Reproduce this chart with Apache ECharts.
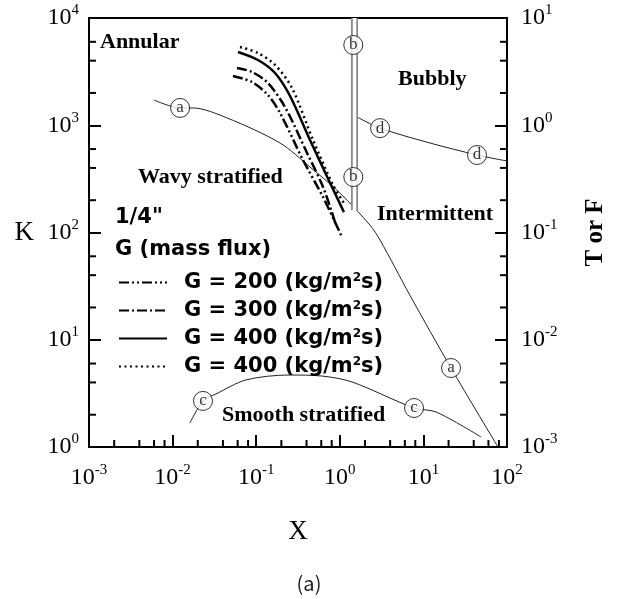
<!DOCTYPE html>
<html>
<head>
<meta charset="utf-8">
<script src="https://cdn.jsdelivr.net/npm/echarts@6/dist/echarts.min.js"></script>
<style>
html, body { margin: 0; padding: 0; background: #fff; }
#chart { width: 618px; height: 599px; }
</style>
</head>
<body>
<div id="chart"></div>
<script>
// transition curve a (F vs X, right axis)
const aX = [0.006, 0.0123, 0.0175, 0.0448, 0.193, 0.44, 1.0, 2.3, 3.03, 6.9, 21.4, 78];
const aF = [1.72, 1.45, 1.45, 1.17, 0.683, 0.408, 0.234, 0.117, 0.085, 0.026, 0.00545, 0.001];
// curve b (vertical, left axis)
const bX = [1.5, 1.5];
const bK = [162, 10000];
// curve c (K vs X, left axis)
const cX = [0.0161, 0.0231, 0.033, 0.0755, 0.247, 0.61, 1.4, 7.73, 14.2, 48.9];
const cK = [1.67, 2.69, 3.12, 4.22, 4.69, 4.59, 4.04, 2.31, 2.12, 1.24];
// curve d (T vs X, right axis)
const dX = [1.61, 3.03, 12, 43.8, 100];
const dT = [1.194, 0.94, 0.683, 0.528, 0.464];

// circled letters on the curves
const aMarkX = [0.0123, 21.4], aMarkY = [1.45, 0.00545];
const bMarkX = [1.45, 1.45], bMarkY = [5600, 329];
const cMarkX = [0.0231, 7.73], cMarkY = [2.69, 2.31];
const dMarkX = [3.03, 43.8], dMarkY = [0.94, 0.528];

// measured transitions, 1/4"
const g200X = [0.0527, 0.089, 0.138, 0.193, 0.363, 0.63, 1.06];
const g200K = [2880, 2530, 1915, 1300, 474, 214, 90.8];
const g300X = [0.0589, 0.089, 0.138, 0.221, 0.406, 0.63, 0.877];
const g300K = [3420, 3140, 2478, 1480, 551, 266, 125];
const g400X = [0.0605, 0.105, 0.168, 0.254, 0.44, 0.764, 1.12];
const g400K = [4820, 4060, 3070, 1874, 728, 290, 155];
const g400bX = [0.064, 0.105, 0.168, 0.268, 0.478, 0.83, 1.12];
const g400bK = [5370, 4720, 3650, 2225, 728, 277, 188];

const gNames = ['G200', 'G300', 'G400', 'G400b'];
const gLabels = ['G = 200 (kg/m{sup|2}s)', 'G = 300 (kg/m{sup|2}s)', 'G = 400 (kg/m{sup|2}s)', 'G = 400 (kg/m{sup|2}s)'];

// minor ticks
const minorMultX = [2, 4, 6, 8];
const minorMultY = [2, 4, 6];
const xDecades = [0.001, 0.01, 0.1, 1, 10];
const kDecades = [1, 10, 100, 1000];
const tDecades = [0.001, 0.01, 0.1, 1];
const xMinor = xDecades.flatMap(d => minorMultX.map(m => m * d));
const kMinor = kDecades.flatMap(d => minorMultY.map(m => m * d));
const tMinor = tDecades.flatMap(d => minorMultY.map(m => m * d));

const zip = (xs, ys) => xs.map((x, i) => [x, ys[i]]);
const serif = 'Liberation Serif';
const supLabel = v => '{b|10}{s|' + Math.round(Math.log10(v)) + '}';
const tickRich = {
  b: { fontFamily: serif, fontSize: 24, color: '#000', lineHeight: 30 },
  s: { fontFamily: serif, fontSize: 15, color: '#000', verticalAlign: 'top', lineHeight: 30 }
};

function logAxis(extra) {
  return Object.assign({
    type: 'log', logBase: 10,
    axisLine: { lineStyle: { color: '#000', width: 2 } },
    axisTick: { inside: true, length: 12, lineStyle: { color: '#000', width: 2 } },
    axisLabel: { formatter: supLabel, rich: tickRich, margin: 10 },
    splitLine: { show: false }
  }, extra);
}

function tickSeries(data, yIdx, dx, dy) {
  return {
    type: 'custom', xAxisIndex: 0, yAxisIndex: yIdx, silent: true, clip: false, z: 4,
    data: data,
    renderItem: (params, api) => {
      const p = api.coord([api.value(0), api.value(1)]);
      return { type: 'line', shape: { x1: p[0], y1: p[1], x2: p[0] + dx, y2: p[1] + dy },
        style: { stroke: '#000', lineWidth: 2 } };
    }
  };
}

function thin(data, yIdx) {
  return { type: 'line', yAxisIndex: yIdx, data: data, symbol: 'none', smooth: 0.3,
    lineStyle: { color: '#222', width: 1 }, silent: true, z: 2 };
}

function marks(xs, ys, yIdx, letter) {
  return { type: 'scatter', yAxisIndex: yIdx, data: zip(xs, ys), symbol: 'circle', symbolSize: 19,
    itemStyle: { color: '#fff', borderColor: '#000', borderWidth: 1 },
    label: { show: true, position: 'inside', formatter: letter, fontFamily: serif, fontSize: 17, color: '#000' },
    silent: true, z: 6 };
}

function gLine(name, data, type, width) {
  return { name: name, type: 'line', yAxisIndex: 0, data: data, symbol: 'none', smooth: 0.3,
    itemStyle: { color: '#000' },
    lineStyle: { color: '#000', width: width, type: type }, silent: true, z: 3 };
}

const chart = echarts.init(document.getElementById('chart'));
const regionFont = { fontFamily: serif, fontWeight: 'bold', fontSize: 22, fill: '#000' };
const legendFont = { fontFamily: 'DejaVu Sans', fontWeight: 'bold', fontSize: 21, fill: '#000' };

chart.setOption({
  animation: false,
  backgroundColor: '#fff',
  grid: { left: 89, right: 111, top: 18, bottom: 152, show: true, borderColor: '#000', borderWidth: 2 },
  xAxis: logAxis({
    min: 0.001, max: 100,
    name: 'X', nameLocation: 'middle', nameGap: 71,
    nameTextStyle: { fontFamily: serif, fontSize: 27, color: '#000' },
    axisLabel: { formatter: supLabel, rich: tickRich, margin: 16 }
  }),
  yAxis: [
    logAxis({
      min: 1, max: 10000, position: 'left',
      name: 'K', nameLocation: 'middle', nameRotate: 0, nameGap: 55,
      nameTextStyle: { fontFamily: serif, fontSize: 27, color: '#000' }
    }),
    logAxis({
      min: 0.001, max: 10, position: 'right',
      name: 'T or F', nameLocation: 'middle', nameRotate: 90, nameGap: 76,
      nameTextStyle: { fontFamily: serif, fontSize: 25, fontWeight: 'bold', color: '#000' },
      axisLabel: { formatter: supLabel, rich: tickRich, margin: 14 }
    })
  ],
  legend: {
    orient: 'vertical', left: 113, top: 267, itemWidth: 48, itemHeight: 14, itemGap: 7,
    data: gNames,
    formatter: name => gLabels[gNames.indexOf(name)],
    selectedMode: false,
    itemStyle: { opacity: 0 },
    textStyle: {
      fontFamily: 'DejaVu Sans', fontWeight: 'bold', fontSize: 21, color: '#000', padding: [0, 0, 0, 12],
      rich: { sup: { fontFamily: 'DejaVu Sans', fontWeight: 'bold', fontSize: 12, color: '#000', verticalAlign: 'top' } }
    }
  },
  graphic: [
    { type: 'text', left: 100, top: 31, style: Object.assign({ text: 'Annular' }, regionFont) },
    { type: 'text', left: 138, top: 166, style: Object.assign({ text: 'Wavy stratified' }, regionFont) },
    { type: 'text', left: 398, top: 68, style: Object.assign({ text: 'Bubbly' }, regionFont) },
    { type: 'text', left: 377, top: 203, style: Object.assign({ text: 'Intermittent' }, regionFont) },
    { type: 'text', left: 222, top: 404, style: Object.assign({ text: 'Smooth stratified' }, regionFont) },
    { type: 'text', left: 115, top: 207, style: Object.assign({ text: '1/4"' }, legendFont) },
    { type: 'text', left: 115, top: 239, style: Object.assign({ text: 'G (mass flux)' }, legendFont) },
    { type: 'text', left: 'center', top: 573, style: { text: '(a)', fontFamily: 'Noto Sans CJK KR', fontSize: 20, fill: '#222' } }
  ],
  series: [
    thin(zip(aX, aF), 1),
    thin(zip(cX, cK), 0),
    thin(zip(dX, dT), 1),
    { type: 'line', yAxisIndex: 0, data: zip(bX, bK), symbol: 'none', silent: true, z: 3,
      lineStyle: { color: '#888', width: 7, cap: 'butt' } },
    { type: 'line', yAxisIndex: 0, data: zip(bX, bK), symbol: 'none', silent: true, z: 3,
      lineStyle: { color: '#fff', width: 3.5, cap: 'butt' } },
    gLine('G200', zip(g200X, g200K), [10, 3, 2, 3, 2, 3], 2.5),
    gLine('G300', zip(g300X, g300K), [10, 3, 2, 3], 2.5),
    gLine('G400', zip(g400X, g400K), 'solid', 2.5),
    gLine('G400b', zip(g400bX, g400bK), [2, 3.5], 2.5),
    marks(aMarkX, aMarkY, 1, 'a'),
    marks(bMarkX, bMarkY, 0, 'b'),
    marks(cMarkX, cMarkY, 0, 'c'),
    marks(dMarkX, dMarkY, 1, 'd'),
    tickSeries(xMinor.map(v => [v, 1]), 0, 0, -7),
    tickSeries(kMinor.map(v => [0.001, v]), 0, 7, 0),
    tickSeries(tMinor.map(v => [100, v]), 1, -7, 0)
  ]
});
</script>
</body>
</html>
